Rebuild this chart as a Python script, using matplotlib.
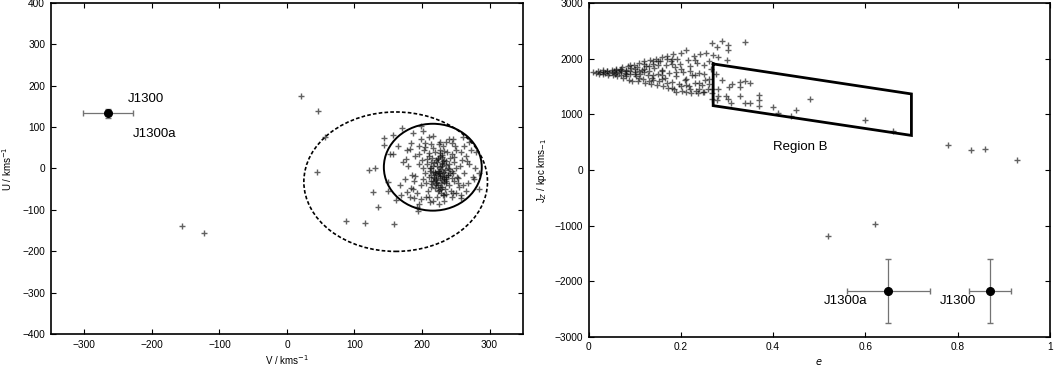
import matplotlib
matplotlib.use('Agg')
import matplotlib.pyplot as plt
from matplotlib.patches import Ellipse
from matplotlib.ticker import FuncFormatter

plt.rcParams['font.family'] = ['Liberation Sans', 'DejaVu Sans']
plt.rcParams['font.size'] = 7

## Left panel data: V, U of the sample stars
v_stars = [21, 46, 56, 44, -156, -123, 87, 116, 158, 121, 130, 127, 135, 143, 143,
           157, 152, 157, 150, 150, 162, 170, 187, 198, 201, 216, 236, 246, 260, 270,
           280, 285, 278, 284, 277, 258, 246, 231, 216, 211, 194, 192, 199, 182, 169, 184,
           225, 230, 218, 235, 222, 212, 240, 228, 215, 245,
           232, 220, 208, 238, 226, 250, 214, 242, 230, 205,
           219, 236, 224, 211, 247, 229, 217, 233, 221, 240,
           210, 252, 227, 213, 244, 200, 256, 223, 231, 206,
           248, 216, 234, 202, 259, 225, 237, 209, 243, 220,
           196, 262, 228, 214, 241, 230, 219, 235, 212, 226,
           190, 265, 233, 203, 251, 222, 238, 215, 244, 207,
           185, 268, 226, 198, 255, 229, 218, 236, 211, 246,
           180, 270, 222, 195, 249, 232, 217, 240, 224, 213,
           188, 258, 236, 201, 253, 227, 204, 245, 232, 219,
           178, 175, 172, 168, 165, 183, 186, 192, 198, 210,
           240, 262, 272, 275, 265, 250, 244, 206, 195, 225,
           212, 232, 258, 188, 178,
           224, 228, 221, 231, 226, 219, 233, 227, 223, 229,
           225, 232, 220, 236, 218, 230, 226, 222, 234, 216,
           228, 224, 239, 213, 231, 227, 221, 235, 225, 229,
           176, 182, 190, 196, 205, 214, 248, 254, 260, 266]
u_stars = [174, 138, 77, -8, -139, -155, -126, -131, -135, -3, 0, -58, -93, 73, 57,
           81, 34, 34, -32, -55, -77, 97, 85, 102, 91, 78, 64, 70, 76, 64,
           40, -12, 0, -50, -25, -64, -60, -64, -79, -68, -102, -93, -75, -68, -63, -48,
           -10, 5, -20, -25, 15, 0, 10, -35, 25, -5,
           20, -40, 10, -15, 30, 0, -30, 25, -45, -10,
           40, -30, -5, -20, 15, 10, 5, -8, -25, -40,
           30, -20, 45, -45, 35, 20, 5, -55, 55, -35,
           -30, 50, -50, 0, 20, 60, 40, -55, -55, 20,
           10, -10, -60, 15, -10, 28, -12, 8, -5, -18,
           30, 30, -65, 45, 45, -32, 2, -38, -22, 22,
           -15, -35, 65, -40, -45, -28, 12, 18, 38, -12,
           5, 10, -68, 55, 55, -20, -8, -2, 22, -15,
           -30, 40, -62, -25, -35, 38, 62, 62, 42, -48,
           45, -25, 15, -40, 55, 62, -50, -60, 70, 75,
           72, 55, 45, -20, -55, -60, -70, -70, -85, -85,
           -82, -78, -72, -72, -58,
           -15, -2, -28, -12, -22, -8, -32, 3, -40, -18,
           -6, -26, -14, -36, -24, 14, -44, 6, -4, -30,
           -50, 26, -16, 2, 18, -10, -34, -20, -52, 32,
           22, 48, -18, 36, 52, 58, 28, -24, -40, 18]

# J1300 in the V-U plane
v_j1300, u_j1300 = -265, 133
v_err, u_err = 37, 10

# velocity ellipses (centre V, centre U, width, height)
thin_ell = (216, 3, 145, 210)
thick_ell = (161, -32, 272, 337)

## Right panel data: eccentricity, Jz
e_stars = [0.010, 0.015, 0.020, 0.022, 0.025, 0.030, 0.032, 0.035, 0.040, 0.042,
           0.045, 0.050, 0.052, 0.055, 0.058, 0.060, 0.062, 0.065, 0.068, 0.070,
           0.072, 0.075, 0.078, 0.080, 0.082, 0.085, 0.088, 0.090, 0.092, 0.095,
           0.098, 0.100, 0.102, 0.105, 0.108, 0.110, 0.112, 0.115, 0.118, 0.120,
           0.122, 0.125, 0.128, 0.130, 0.132, 0.135, 0.138, 0.140, 0.142, 0.145,
           0.148, 0.150, 0.152, 0.155, 0.158, 0.160, 0.162, 0.165, 0.168, 0.170,
           0.172, 0.175, 0.178, 0.180, 0.182, 0.185, 0.188, 0.190, 0.192, 0.195,
           0.198, 0.200, 0.202, 0.205, 0.208, 0.210, 0.212, 0.215, 0.218, 0.220,
           0.222, 0.225, 0.228, 0.230, 0.232, 0.235, 0.238, 0.240, 0.242, 0.245,
           0.248, 0.250, 0.252, 0.255, 0.258, 0.260, 0.262, 0.265, 0.268, 0.270,
           0.03, 0.05, 0.06, 0.07, 0.08, 0.09, 0.10, 0.11, 0.12, 0.13,
           0.14, 0.15, 0.16, 0.17, 0.18, 0.19, 0.20, 0.21, 0.22, 0.23,
           0.24, 0.25, 0.12, 0.14, 0.16, 0.18, 0.20, 0.22, 0.24, 0.26,
           0.268, 0.289, 0.279, 0.302, 0.302, 0.280, 0.300, 0.339, 0.277, 0.289,
           0.305, 0.311, 0.329, 0.329, 0.338, 0.349, 0.280, 0.280, 0.298, 0.279,
           0.302, 0.309, 0.329, 0.339, 0.349, 0.369, 0.369, 0.369, 0.400, 0.410,
           0.438, 0.449, 0.479, 0.600, 0.660, 0.780, 0.830, 0.859, 0.930, 0.519,
           0.620, 0.268, 0.268,
           0.04, 0.06, 0.08, 0.10, 0.12, 0.14, 0.16, 0.18, 0.07, 0.09,
           0.11, 0.13, 0.15, 0.17, 0.19, 0.21, 0.23, 0.25]
jz_stars = [1760, 1740, 1775, 1730, 1760, 1790, 1720, 1750, 1780, 1710,
            1745, 1800, 1700, 1770, 1730, 1820, 1680, 1760, 1790, 1710,
            1850, 1650, 1740, 1800, 1770, 1870, 1620, 1720, 1830, 1600,
            1890, 1760, 1680, 1850, 1590, 1920, 1720, 1800, 1640, 1950,
            1560, 1870, 1700, 1780, 1980, 1550, 1650, 1900, 1830, 2000,
            1520, 1720, 1600, 1950, 1800, 2020, 1500, 1660, 1880, 2050,
            1480, 1740, 1960, 1580, 2080, 1460, 1850, 1680, 1990, 1540,
            1900, 2100, 1420, 1760, 1620, 2150, 1400, 1980, 1500, 1860,
            1380, 1700, 2040, 1560, 1420, 1920, 1380, 1740, 2080, 1520,
            1400, 1880, 1620, 2100, 1450, 1960, 1540, 1820, 1380, 2060,
            1760, 1760, 1740, 1780, 1720, 1780, 1820, 1650, 1760, 1860,
            1700, 1880, 1780, 1560, 1900, 1760, 1500, 1640, 1780, 1980,
            1460, 1720, 1820, 1960, 1640, 2000, 1820, 1460, 1560, 1640,
            2280, 2310, 2208, 2238, 2155, 2036, 1970, 2298, 1720, 1613,
            1482, 1542, 1571, 1482, 1589, 1560, 1452, 1333, 1333, 1256,
            1274, 1202, 1321, 1202, 1202, 1345, 1262, 1155, 1125, 1024,
            976, 1083, 1274, 905, 708, 452, 363, 369, 179, -1190,
            -964, 1274, 1450,
            1770, 1790, 1690, 1730, 1900, 1620, 1700, 1480, 1820, 1880,
            1780, 1600, 1960, 2000, 1400, 1520, 1700, 1400]

# J1300 and J1300a in the e-Jz plane
e_j1300 = [0.65, 0.87]
e_err = [0.09, 0.045]
jz_j1300 = [-2180, -2180]
jz_err = [575, 575]

# Region B outline
region_e = [0.27, 0.70, 0.70, 0.27, 0.27]
region_jz = [1905, 1365, 620, 1155, 1905]

#%% Plot

fig = plt.figure(figsize=(10.55, 3.69), dpi=100)
ax1 = fig.add_axes([0.048, 0.095, 0.448, 0.897])
ax2 = fig.add_axes([0.558, 0.087, 0.437, 0.905])

star_style = dict(marker='+', linestyle='none', color='0.05', alpha=0.65,
                  markersize=5, markeredgewidth=1.0)

# left: V-U
ax1.plot(v_stars, u_stars, **star_style)
ax1.add_patch(Ellipse(thin_ell[:2], thin_ell[2], thin_ell[3], fill=False,
                      edgecolor='black', linewidth=1.4))
ax1.add_patch(Ellipse(thick_ell[:2], thick_ell[2], thick_ell[3], fill=False,
                      edgecolor='black', linewidth=1.2, linestyle=(0, (2.2, 1.3))))
ax1.errorbar(v_j1300, u_j1300, xerr=v_err, yerr=u_err, fmt='o', color='black',
             markersize=5.5, ecolor='0.45', elinewidth=0.9, capsize=2.5)
ax1.text(-235, 168, 'J1300', fontsize=9.5, va='center')
ax1.text(-228, 84, 'J1300a', fontsize=9.5, va='center')

ax1.set_xlim(-350, 350)
ax1.set_ylim(-400, 400)
ax1.set_xticks([-300, -200, -100, 0, 100, 200, 300])
ax1.set_yticks([-400, -300, -200, -100, 0, 100, 200, 300, 400])
ax1.set_xlabel('V / kms$^{-1}$', labelpad=3)
ax1.set_ylabel('U / kms$^{-1}$', labelpad=6)

# right: e-Jz
ax2.plot(e_stars, jz_stars, **star_style)
ax2.plot(region_e, region_jz, color='black', linewidth=2.0, solid_joinstyle='miter')
ax2.errorbar(e_j1300, jz_j1300, xerr=e_err, yerr=jz_err, fmt='o', color='black',
             markersize=5.5, ecolor='0.45', elinewidth=0.9, capsize=2.5)
ax2.text(0.40, 420, 'Region B', fontsize=9.5, va='center')
ax2.text(0.51, -2350, 'J1300a', fontsize=9.5, va='center')
ax2.text(0.762, -2350, 'J1300', fontsize=9.5, va='center')

ax2.set_xlim(0, 1)
ax2.set_ylim(-3000, 3000)
ax2.set_xticks([0, 0.2, 0.4, 0.6, 0.8, 1])
ax2.set_yticks(range(-3000, 3001, 1000))
ax2.xaxis.set_major_formatter(FuncFormatter(lambda x, p: '%g' % x))
ax2.set_xlabel('$e$', labelpad=3)
ax2.set_ylabel('J$_Z$ / kpc kms$_{-1}$', labelpad=4)

for ax in (ax1, ax2):
    ax.tick_params(direction='in', length=3.5, width=0.8, top=True, right=True,
                   labelsize=7.3, pad=4)
    for sp in ax.spines.values():
        sp.set_linewidth(1.2)

fig.savefig('out.png', dpi=100)
